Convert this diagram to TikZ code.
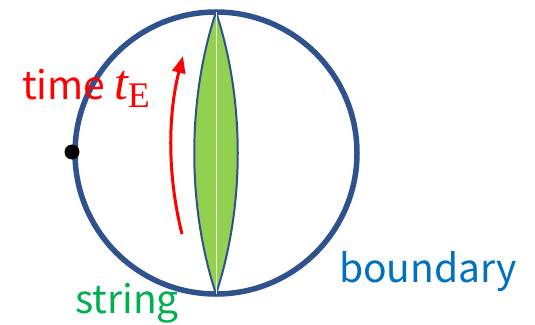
\documentclass[tikz,border=0pt]{standalone}
\usepackage{fontspec}
\setmainfont{Noto Sans CJK JP}
\newfontfamily\serifit{Liberation Serif}
\usetikzlibrary{arrows.meta}

\definecolor{rimblue}{RGB}{47,82,143}
\definecolor{lensgreen}{RGB}{146,208,80}
\definecolor{txtblue}{RGB}{0,112,192}
\definecolor{txtgreen}{RGB}{0,176,80}

\begin{document}
\begin{tikzpicture}[
  x=1pt, y=-1pt,
  label/.style={font=\fontsize{39}{42}\selectfont, inner sep=0pt, anchor=base west},
  rim/.style={draw=rimblue, line width=5.5pt},
  flow/.style={-{Triangle[length=17pt,width=13pt]}, draw=red, line width=3pt}
]
\useasboundingbox (0,0) rectangle (535,324);

% boundary circle
\node[rim, circle, minimum size=282pt, inner sep=0pt, outer sep=0pt] (bdry) at (216,153) {};

% string worldsheet
\coordinate (top) at (216,12);
\coordinate (bot) at (216,294);
\draw[fill=lensgreen, draw=rimblue, line width=2pt]
  (top) .. controls (187,100) and (187,206) .. (bot)
  .. controls (245,206) and (245,100) .. (top) -- cycle;
\draw[white!85!lensgreen, line width=1pt] (top) -- (bot);

% euclidean time flow
\coordinate (tstart) at (182,234);
\coordinate (tend) at (183,56);
\draw[flow] (tstart) .. controls (166,170) and (169,110) .. (tend);

% marked point
\node[circle, fill=black, minimum size=15pt, inner sep=0pt] (pt) at (72,152) {};

% labels
\node[label, text=red] (time) at (22,99) {time {\serifit\fontsize{50}{52}\selectfont\itshape t}{\serifit\fontsize{36}{38}\selectfont\raisebox{-8pt}{E}}};
\node[label, text=txtblue] (bound) at (339,282) {boundary};
\node[label, text=txtgreen] (str) at (75,313) {string};
\end{tikzpicture}
\end{document}
